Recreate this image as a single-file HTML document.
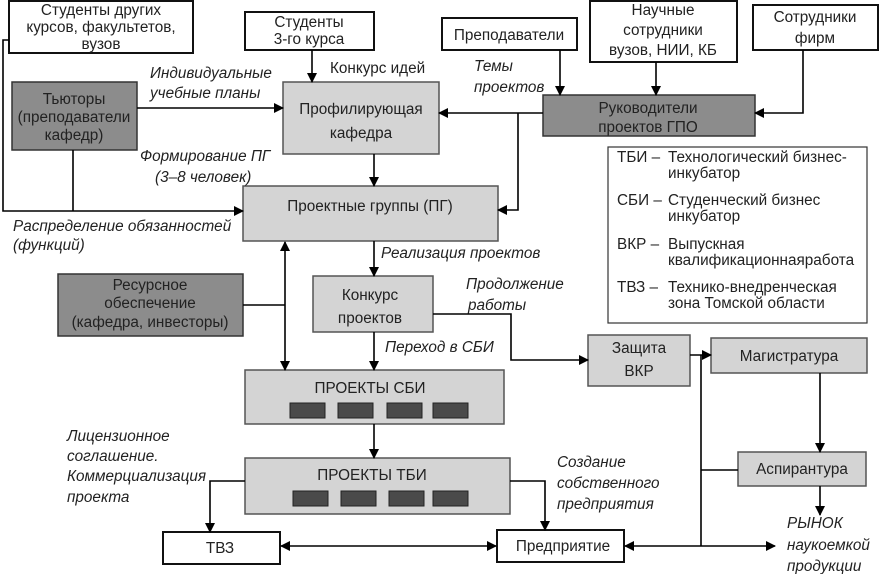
<!DOCTYPE html>
<html><head><meta charset="utf-8"><style>
html,body{margin:0;padding:0;background:#fff;}
svg{display:block;font-family:"Liberation Sans","Noto Sans CJK SC",sans-serif;}
text{font-size:15.3px;fill:#222;}
.i{font-style:italic;}
.w{fill:#fff;stroke:#111;stroke-width:2;}
.d{fill:#8c8c8c;stroke:#333;stroke-width:1.5;}
.l{fill:#d4d4d4;stroke:#555;stroke-width:1.5;}
.s{fill:#4a4a4a;stroke:#222;stroke-width:1;}
.ln{stroke:#000;stroke-width:1.6;fill:none;}
</style></head><body>
<svg width="879" height="574" viewBox="0 0 879 574">
<defs>
<marker id="a" markerWidth="10" markerHeight="10" refX="9" refY="5" orient="auto" markerUnits="userSpaceOnUse"><path d="M0,0 L10,5 L0,10 z" fill="#000"/></marker>
<marker id="b" markerWidth="10" markerHeight="10" refX="1" refY="5" orient="auto" markerUnits="userSpaceOnUse"><path d="M10,0 L0,5 L10,10 z" fill="#000"/></marker>
</defs>
<rect class="w" x="9" y="1" width="184" height="52"/>
<text x="101" y="15" text-anchor="middle">Студенты других</text>
<text x="101" y="32" text-anchor="middle">курсов, факультетов,</text>
<text x="101" y="49" text-anchor="middle">вузов</text>
<rect class="w" x="245" y="12" width="129" height="38"/>
<text x="309" y="27" text-anchor="middle">Студенты</text>
<text x="309" y="44" text-anchor="middle">3-го курса</text>
<rect class="w" x="442" y="18" width="135" height="32"/>
<text x="509" y="40" text-anchor="middle">Преподаватели</text>
<rect class="w" x="590" y="1" width="147" height="61"/>
<text x="663" y="15" text-anchor="middle">Научные</text>
<text x="663" y="35" text-anchor="middle">сотрудники</text>
<text x="663" y="55" text-anchor="middle">вузов, НИИ, КБ</text>
<rect class="w" x="753" y="5" width="125" height="45"/>
<text x="815" y="22" text-anchor="middle">Сотрудники</text>
<text x="815" y="43" text-anchor="middle">фирм</text>
<rect class="d" x="12" y="82" width="125" height="68"/>
<text x="74" y="104" text-anchor="middle">Тьюторы</text>
<text x="74" y="122" text-anchor="middle">(преподаватели</text>
<text x="74" y="140" text-anchor="middle">кафедр)</text>
<rect class="l" x="283" y="82" width="156" height="72"/>
<text x="361" y="114" text-anchor="middle">Профилирующая</text>
<text x="361" y="138" text-anchor="middle">кафедра</text>
<rect class="d" x="543" y="95" width="212" height="41"/>
<text x="648" y="113" text-anchor="middle">Руководители</text>
<text x="648" y="132" text-anchor="middle">проектов ГПО</text>
<rect x="608" y="147" width="259" height="176" fill="#fff" stroke="#333" stroke-width="1.2"/>
<text x="617" y="162">ТБИ –</text><text x="668" y="162">Технологический бизнес-</text><text x="668" y="178">инкубатор</text>
<text x="617" y="205">СБИ –</text><text x="668" y="205">Студенческий бизнес</text><text x="668" y="221">инкубатор</text>
<text x="617" y="249">ВКР –</text><text x="668" y="249">Выпускная</text><text x="668" y="265">квалификационнаяработа</text>
<text x="617" y="292">ТВЗ –</text><text x="668" y="292">Технико-внедренческая</text><text x="668" y="308">зона Томской области</text>
<rect class="l" x="243" y="186" width="255" height="55"/>
<text x="370" y="211" text-anchor="middle">Проектные группы (ПГ)</text>
<rect class="d" x="58" y="274" width="185" height="62"/>
<text x="150" y="290" text-anchor="middle">Ресурсное</text>
<text x="150" y="308" text-anchor="middle">обеспечение</text>
<text x="150" y="327" text-anchor="middle">(кафедра, инвесторы)</text>
<rect class="l" x="313" y="276" width="120" height="56"/>
<text x="370" y="300" text-anchor="middle">Конкурс</text>
<text x="370" y="323" text-anchor="middle">проектов</text>
<rect class="l" x="588" y="335" width="102" height="51"/>
<text x="639" y="353" text-anchor="middle">Защита</text>
<text x="639" y="376" text-anchor="middle">ВКР</text>
<rect class="l" x="711" y="338" width="156" height="35"/>
<text x="789" y="361" text-anchor="middle">Магистратура</text>
<rect class="l" x="738" y="452" width="128" height="34"/>
<text x="802" y="474" text-anchor="middle">Аспирантура</text>
<rect class="l" x="245" y="370" width="259" height="54"/>
<text x="370" y="393" text-anchor="middle">ПРОЕКТЫ СБИ</text>
<rect class="s" x="290" y="403" width="35" height="15"/><rect class="s" x="338" y="403" width="35" height="15"/><rect class="s" x="387" y="403" width="35" height="15"/><rect class="s" x="433" y="403" width="35" height="15"/>
<rect class="l" x="245" y="458" width="265" height="56"/>
<text x="372" y="480" text-anchor="middle">ПРОЕКТЫ ТБИ</text>
<rect class="s" x="293" y="491" width="35" height="15"/><rect class="s" x="341" y="491" width="35" height="15"/><rect class="s" x="389" y="491" width="35" height="15"/><rect class="s" x="433" y="491" width="35" height="15"/>
<rect class="w" x="163" y="532" width="117" height="32"/>
<text x="220" y="553" text-anchor="middle">ТВЗ</text>
<rect class="w" x="497" y="530" width="127" height="32"/>
<text x="563" y="551" text-anchor="middle">Предприятие</text>
<path class="ln" stroke-width="2.5" d="M9,40 H3 V211 H243" marker-end="url(#a)"/>
<path class="ln" d="M73,150 V211"/>
<path class="ln" d="M137,108 H283" marker-end="url(#a)"/>
<path class="ln" d="M312,50 V82" marker-end="url(#a)"/>
<path class="ln" d="M374,154 V186" marker-end="url(#a)"/>
<path class="ln" d="M560,50 V95" marker-end="url(#a)"/>
<path class="ln" d="M656,62 V95" marker-end="url(#a)"/>
<path class="ln" d="M803,50 V113 H755" marker-end="url(#a)"/>
<path class="ln" d="M543,113 H439" marker-end="url(#a)"/>
<path class="ln" d="M518,113 V210 H498" marker-end="url(#a)"/>
<path class="ln" d="M374,241 V276" marker-end="url(#a)"/>
<path class="ln" d="M243,305 H285"/>
<path class="ln" d="M285,242 V370" marker-start="url(#b)" marker-end="url(#a)"/>
<path class="ln" d="M374,332 V370" marker-end="url(#a)"/>
<path class="ln" d="M433,314 H511 V360 H588" marker-end="url(#a)"/>
<path class="ln" d="M690,355 H711" marker-end="url(#a)"/>
<path class="ln" d="M701,355 V546"/>
<path class="ln" d="M701,470 H738"/>
<path class="ln" d="M820,373 V452" marker-end="url(#a)"/>
<path class="ln" d="M820,486 V515" marker-end="url(#a)"/>
<path class="ln" d="M374,424 V458" marker-end="url(#a)"/>
<path class="ln" d="M245,481 H210 V532" marker-end="url(#a)"/>
<path class="ln" d="M510,481 H545 V530" marker-end="url(#a)"/>
<path class="ln" stroke-width="2.2" d="M281,546 H496" marker-start="url(#b)" marker-end="url(#a)"/>
<path class="ln" stroke-width="2.2" d="M625,546 H775" marker-start="url(#b)" marker-end="url(#a)"/>
<text class="i" x="150" y="78">Индивидуальные</text>
<text class="i" x="150" y="98">учебные планы</text>
<text x="330" y="73">Конкурс идей</text>
<text class="i" x="474" y="71">Темы</text>
<text class="i" x="474" y="92">проектов</text>
<text class="i" x="140" y="161">Формирование ПГ</text>
<text class="i" x="155" y="182">(3–8 человек)</text>
<text class="i" x="13" y="231">Распределение обязанностей</text>
<text class="i" x="13" y="250">(функций)</text>
<text class="i" x="381" y="258">Реализация проектов</text>
<text class="i" x="466" y="289">Продолжение</text>
<text class="i" x="468" y="310">работы</text>
<text class="i" x="385" y="352">Переход в СБИ</text>
<text class="i" x="67" y="441">Лицензионное</text>
<text class="i" x="67" y="461">соглашение.</text>
<text class="i" x="67" y="481">Коммерциализация</text>
<text class="i" x="67" y="502">проекта</text>
<text class="i" x="557" y="467">Создание</text>
<text class="i" x="557" y="488">собственного</text>
<text class="i" x="557" y="509">предприятия</text>
<text class="i" x="787" y="528">РЫНОК</text>
<text class="i" x="787" y="550">наукоемкой</text>
<text class="i" x="787" y="571">продукции</text>
</svg>
</body></html>
